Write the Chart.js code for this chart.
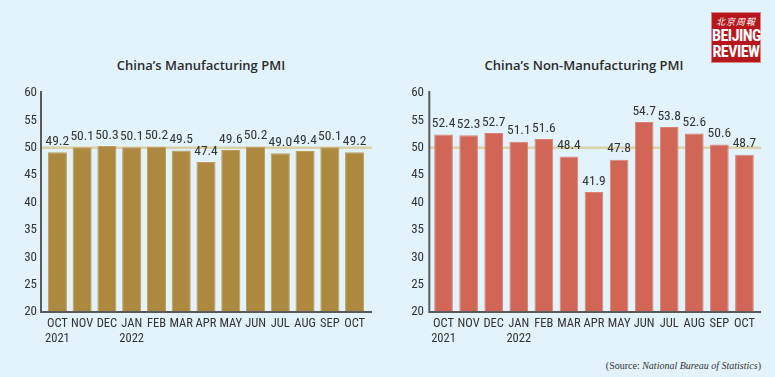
<!DOCTYPE html>
<html>
<head>
<meta charset="utf-8">
<script src="https://cdn.jsdelivr.net/npm/chart.js@4"></script>
<style>
  body { margin: 0; width: 775px; height: 377px; background: #e2f3fb; position: relative; overflow: hidden; font-family: "Roboto Condensed", sans-serif; color: #333; }
  .title { position: absolute; top: 56px; font-family: "Open Sans", sans-serif; font-weight: 600; font-size: 13px; color: #2b2b2b; white-space: nowrap; transform: translateX(-50%); }
  #wrapL { position: absolute; left: 0; top: 0; width: 385px; height: 377px; }
  #wrapR { position: absolute; left: 385px; top: 0; width: 390px; height: 377px; }
  .logo { position: absolute; left: 711px; top: 12px; width: 50px; height: 51px; background: #b5171c; color: #fff; text-align: center; box-sizing: border-box; border: 1px solid #d9878a; }
  .logo .cn { font-family: "Noto Sans CJK SC", sans-serif; font-size: 9px; line-height: 12px; margin-top: 3px; letter-spacing: 1px; font-style: italic; }
  .logo .en { font-family: "Roboto Condensed", sans-serif; font-weight: bold; font-size: 16px; line-height: 16px; letter-spacing: -0.5px; }
  .source { position: absolute; right: 14px; top: 360px; font-family: "Liberation Serif", serif; font-size: 10px; color: #333; }
</style>
</head>
<body>
<div class="title" style="left:201px">China’s Manufacturing PMI</div>
<div class="title" style="left:584px">China’s Non-Manufacturing PMI</div>
<div class="logo"><div class="cn">北京周報</div><div class="en">BEIJING</div><div class="en">REVIEW</div></div>
<div class="source">(Source: <i>National Bureau of Statistics</i>)</div>
<div id="wrapL"><canvas id="chartL"></canvas></div>
<div id="wrapR"><canvas id="chartR"></canvas></div>
<script>
const months = [['OCT', '2021'], 'NOV', 'DEC', ['JAN', '2022'], 'FEB', 'MAR', 'APR', 'MAY', 'JUN', 'JUL', 'AUG', 'SEP', 'OCT'];
const manufacturing = [49.2, 50.1, 50.3, 50.1, 50.2, 49.5, 47.4, 49.6, 50.2, 49.0, 49.4, 50.1, 49.2];
const nonManufacturing = [52.4, 52.3, 52.7, 51.1, 51.6, 48.4, 41.9, 47.8, 54.7, 53.8, 52.6, 50.6, 48.7];
const yMin = 20;
const yMax = 60;
const yStep = 5;
const refValue = 50;

Chart.defaults.font.family = '"Roboto Condensed", sans-serif';

// axis lines, 50 line and value labels
function pmiPlugin(axisX, axisEnd)
{
  return {
    id: 'pmi',
    beforeDatasetsDraw(chart)
    {
      const ctx = chart.ctx;
      const y = chart.scales.y.getPixelForValue(refValue);
      ctx.save();
      ctx.strokeStyle = '#dbd1a8';
      ctx.lineWidth = 2.5;
      ctx.beginPath();
      ctx.moveTo(axisX, y);
      ctx.lineTo(axisEnd, y);
      ctx.stroke();
      ctx.restore();
    },
    afterDatasetsDraw(chart)
    {
      const ctx = chart.ctx;
      const yTop = chart.scales.y.getPixelForValue(yMax);
      const yBot = chart.scales.y.getPixelForValue(yMin);
      ctx.save();
      ctx.strokeStyle = '#5a5a5a';
      ctx.lineWidth = 2;
      ctx.beginPath();
      ctx.moveTo(axisX, yTop - 2);
      ctx.lineTo(axisX, yBot);
      ctx.lineTo(axisEnd, yBot);
      ctx.stroke();

      ctx.fillStyle = '#333';
      ctx.font = '13.5px "Roboto Condensed", sans-serif';
      ctx.textAlign = 'center';
      ctx.textBaseline = 'bottom';
      const meta = chart.getDatasetMeta(0);
      const vals = chart.data.datasets[0].data;
      meta.data.forEach((bar, i) =>
      {
        ctx.fillText(vals[i].toFixed(1), bar.x, bar.y - 4);
      });
      ctx.restore();
    }
  };
}

function makeChart(id, values, color, edge, yWidth, padRight, barPct, axisX, axisEnd, yPad)
{
  return new Chart(document.getElementById(id), {
    type: 'bar',
    data: {
      labels: months,
      datasets: [{
        data: values,
        backgroundColor: color,
        borderColor: edge,
        borderWidth: { top: 1, left: 1, right: 1, bottom: 0 },
        categoryPercentage: 1,
        barPercentage: barPct
      }]
    },
    options: {
      responsive: true,
      maintainAspectRatio: false,
      animation: false,
      layout: { padding: { top: 93, right: padRight, left: 0, bottom: 0 } },
      plugins: { legend: { display: false }, tooltip: { enabled: false } },
      scales: {
        x: {
          grid: { display: false, drawTicks: false },
          border: { display: false },
          ticks: { color: '#333', padding: 5, maxRotation: 0, autoSkip: false, font: { size: 12.5, lineHeight: 1.15 } },
          afterFit: (s) => { s.height = 65; }
        },
        y: {
          min: yMin,
          max: yMax,
          grid: { display: false, drawTicks: false },
          border: { display: false },
          ticks: { stepSize: yStep, color: '#333', padding: yPad, font: { size: 13 } },
          afterFit: (s) => { s.width = yWidth; }
        }
      }
    },
    plugins: [pmiPlugin(axisX, axisEnd)]
  });
}

makeChart('chartL', manufacturing, '#ad893f', '#bd9c5c', 45, 18, 0.77, 41, 372, 8);
makeChart('chartR', nonManufacturing, '#d26656', '#dc8273', 46, 18, 0.745, 44.3, 376, 7);
</script>
</body>
</html>
